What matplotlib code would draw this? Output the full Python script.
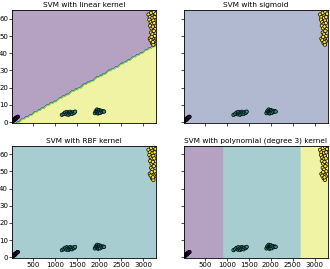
import numpy as np
import matplotlib
matplotlib.use("Agg")
import matplotlib.pyplot as plt

# ---- data ----
titles = ["SVM with linear kernel", "SVM with sigmoid",
          "SVM with RBF kernel", "SVM with polynomial (degree 3) kernel"]

class0_x = [35, 45, 55, 60, 70, 80, 85, 95, 100, 110, 120, 130, 140, 150]
class0_y = [0.6, 1.0, 1.3, 1.1, 1.6, 1.9, 1.5, 2.1, 2.4, 2.2, 2.6, 2.8, 3.0, 3.1]

class1_x = [1150, 1190, 1220, 1250, 1260, 1280, 1300, 1310, 1330, 1340, 1360, 1380, 1400, 1430, 1450,
            1900, 1920, 1940, 1950, 1960, 1970, 1980, 1990, 2000, 2010, 2020, 2040, 2060, 2090, 2110]
class1_y = [4.2, 4.8, 5.5, 4.5, 5.9, 5.0, 4.3, 5.6, 4.9, 6.0, 5.3, 4.7, 5.7, 5.4, 6.1,
            5.2, 6.4, 5.8, 7.3, 6.0, 5.0, 6.8, 5.5, 7.0, 6.2, 5.3, 6.6, 5.9, 6.3, 6.1]

class2_x = [3120, 3150, 3180, 3210, 3240, 3270, 3140, 3170, 3200, 3230, 3260, 3280,
            3160, 3190, 3220, 3250, 3270, 3180, 3210, 3240, 3260, 3200, 3230, 3250,
            3150, 3170, 3200, 3230, 3190, 3220]
class2_y = [62.5, 61.0, 63.5, 60.5, 64.0, 62.0, 59.5, 58.0, 57.0, 59.0, 61.0, 63.0,
            56.0, 54.5, 55.5, 57.5, 54.0, 52.0, 51.0, 53.0, 50.0, 49.0, 48.0, 47.0,
            48.5, 47.5, 46.0, 45.0, 49.5, 46.5]

# decision model parameters
linear_boundary = [(150, 0.0), (3300, 45.0)]   # below/right of this line -> class 2
poly_cuts = [930, 2700]                         # x thresholds class 0 | 1 | 2
x_limits = [20, 3300]
y_limits = [-0.5, 65]

cmap = plt.cm.viridis
sigmoid_color = cmap(0.25)
rbf_color = cmap(0.4375)

xx, yy = np.meshgrid(np.arange(x_limits[0], x_limits[1] + 40, 40),
                     np.arange(y_limits[0], y_limits[1] + 1.0, 1.0))

(x0, y0), (x1, y1) = linear_boundary
slope = (y1 - y0) / (x1 - x0)
Z_lin = np.where(yy < y0 + slope * (xx - x0), 2.0, 0.0)
Z_poly = np.where(xx < poly_cuts[0], 0.0, np.where(xx < poly_cuts[1], 1.0, 2.0))

levels = np.linspace(0, 2, 9)

fig, axes = plt.subplots(2, 2, figsize=(3.3, 2.69), dpi=100, sharex=True, sharey=True)
fig.subplots_adjust(left=0.037, right=0.994, top=0.962, bottom=0.04, wspace=0.19, hspace=0.2)

all_x = np.array(class0_x + class1_x + class2_x)
all_y = np.array(class0_y + class1_y + class2_y)
labels = np.array([0] * len(class0_x) + [1] * len(class1_x) + [2] * len(class2_x))

for i, ax in enumerate(axes.flat):
    if i == 0:
        ax.contourf(xx, yy, Z_lin, levels=levels, cmap=cmap, alpha=0.4)
    elif i == 3:
        ax.contourf(xx, yy, Z_poly, levels=levels, cmap=cmap, alpha=0.4)
    else:
        col = sigmoid_color if i == 1 else rbf_color
        ax.contourf(xx, yy, np.zeros_like(xx), levels=[-1, 1], colors=[col], alpha=0.4)
    ax.scatter(all_x, all_y, c=labels, cmap=cmap, vmin=0, vmax=2,
               s=6, edgecolors='k', linewidths=0.5)
    ax.set_xlim(x_limits)
    ax.set_ylim(y_limits)
    ax.set_title(titles[i], fontsize=5.3, pad=2)
    ax.set_xticks([500, 1000, 1500, 2000, 2500, 3000])
    ax.set_yticks([0, 10, 20, 30, 40, 50, 60])
    ax.tick_params(labelsize=5, length=2, pad=1, width=0.5)
    for s in ax.spines.values():
        s.set_linewidth(0.6)

fig.savefig("out.png", dpi=100)
